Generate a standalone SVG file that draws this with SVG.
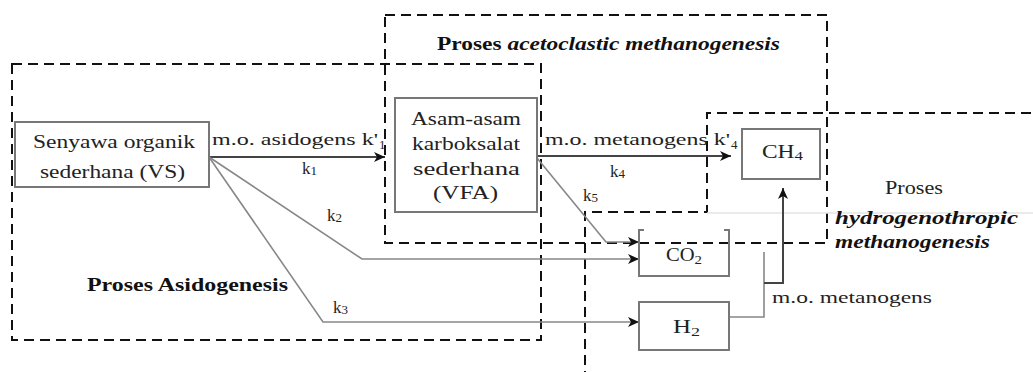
<svg xmlns="http://www.w3.org/2000/svg" width="1033" height="372" viewBox="0 0 1033 372">
  <style>
    .zone { fill: none; stroke: #111; stroke-width: 2; stroke-dasharray: 10 6; }
    .box { fill: none; stroke: #777; stroke-width: 2; }
    .t { font-size: 18px; fill: #222; }
    .lbl { font-size: 17px; fill: #222; }
    .zt { font-size: 18px; font-weight: bold; fill: #111; }
    .it { font-style: italic; }
    .sub { font-size: 13px; }
    .main { fill: none; stroke: #444; stroke-width: 2; }
    .side { fill: none; stroke: #888; stroke-width: 1.6; }
  </style>
  <defs>
    <marker id="arrow" markerUnits="userSpaceOnUse" markerWidth="12" markerHeight="10" refX="11" refY="5" orient="auto">
      <path d="M0,0 L11,5 L0,10 L3,5 Z" fill="#111"/>
    </marker>
  </defs>

  <rect width="1033" height="372" fill="#fff"/>

  <g font-family="'Liberation Serif', 'DejaVu Serif', 'Times New Roman', serif">
  <!-- process zones -->
  <g id="zone-asidogenesis">
    <rect class="zone" x="12" y="64" width="529" height="276"/>
    <text class="zt" x="87" y="291" textLength="201" lengthAdjust="spacingAndGlyphs">Proses Asidogenesis</text>
  </g>
  <g id="zone-acetoclastic">
    <rect class="zone" x="385" y="15" width="442" height="228"/>
    <text class="zt" x="437" y="50" textLength="343" lengthAdjust="spacingAndGlyphs">Proses <tspan class="it">acetoclastic methanogenesis</tspan></text>
  </g>
  <g id="zone-hydrogenotrophic">
    <path class="zone" d="M1031,113 H707 V212 H585 V372"/>
    <path d="M707,213 H1033" stroke="#e4e4e4" stroke-width="1.5" fill="none"/>
    <text class="t" x="885" y="194" textLength="58" lengthAdjust="spacingAndGlyphs">Proses</text>
    <text class="zt it" x="835" y="224" textLength="183" lengthAdjust="spacingAndGlyphs">hydrogenothropic</text>
    <text class="zt it" x="835" y="248" textLength="155" lengthAdjust="spacingAndGlyphs">methanogenesis</text>
  </g>

  <!-- connectors -->
  <g id="connectors">
    <path class="main" d="M209,157 H385" marker-end="url(#arrow)"/>
    <path class="side" d="M209,157 L362,259 H639" marker-end="url(#arrow)"/>
    <path class="side" d="M209,157 L323,322 H639" marker-end="url(#arrow)"/>
    <path class="main" d="M537,156 H731" marker-end="url(#arrow)"/>
    <path class="side" d="M537,158 L606,242 H639" marker-end="url(#arrow)"/>
    <path class="side" d="M729,317 H764 V252"/>
    <path class="main" d="M764,283 H783 V188" marker-end="url(#arrow)"/>

    <text class="lbl" x="212" y="145" textLength="166" lengthAdjust="spacingAndGlyphs">m.o. asidogens k'</text>
    <text class="lbl sub" x="379" y="149">1</text>
    <text class="lbl" x="302" y="174">k<tspan class="sub" dy="1">1</tspan></text>
    <text class="lbl" x="327" y="221">k<tspan class="sub" dy="1">2</tspan></text>
    <text class="lbl" x="333" y="313">k<tspan class="sub" dy="1">3</tspan></text>
    <text class="lbl" x="545" y="145" textLength="185" lengthAdjust="spacingAndGlyphs">m.o. metanogens k'</text>
    <text class="lbl sub" x="731" y="149">4</text>
    <text class="lbl" x="610" y="177">k<tspan class="sub" dy="1">4</tspan></text>
    <text class="lbl" x="583" y="201">k<tspan class="sub" dy="1">5</tspan></text>
    <text class="lbl" x="772" y="303" textLength="160" lengthAdjust="spacingAndGlyphs">m.o. metanogens</text>
  </g>

  <!-- nodes -->
  <g id="node-vs">
    <rect class="box" x="15" y="122" width="194" height="65"/>
    <text class="t" x="33" y="148" textLength="162" lengthAdjust="spacingAndGlyphs">Senyawa organik</text>
    <text class="t" x="40" y="178" textLength="145" lengthAdjust="spacingAndGlyphs">sederhana (VS)</text>
  </g>
  <g id="node-vfa">
    <rect class="box" x="395" y="98" width="142" height="114"/>
    <text class="t" x="411" y="125" textLength="110" lengthAdjust="spacingAndGlyphs">Asam-asam</text>
    <text class="t" x="412" y="150" textLength="108" lengthAdjust="spacingAndGlyphs">karboksalat</text>
    <text class="t" x="413" y="175" textLength="107" lengthAdjust="spacingAndGlyphs">sederhana</text>
    <text class="t" x="433" y="199" textLength="65" lengthAdjust="spacingAndGlyphs">(VFA)</text>
  </g>
  <g id="node-ch4">
    <rect class="box" x="742" y="129" width="78" height="50"/>
    <text class="t" x="762" y="158" textLength="41" lengthAdjust="spacingAndGlyphs">CH<tspan class="sub" dy="2">4</tspan></text>
  </g>
  <g id="node-co2">
    <path class="box" d="M644,230 H639 V276 H729 V230 H724"/>
    <text class="t" x="666" y="261" textLength="36" lengthAdjust="spacingAndGlyphs">CO<tspan class="sub" dy="3">2</tspan></text>
  </g>
  <g id="node-h2">
    <rect class="box" x="639" y="302" width="90" height="48"/>
    <text class="t" x="673" y="333" textLength="27" lengthAdjust="spacingAndGlyphs">H<tspan class="sub" dy="3">2</tspan></text>
  </g>
  </g>
</svg>
